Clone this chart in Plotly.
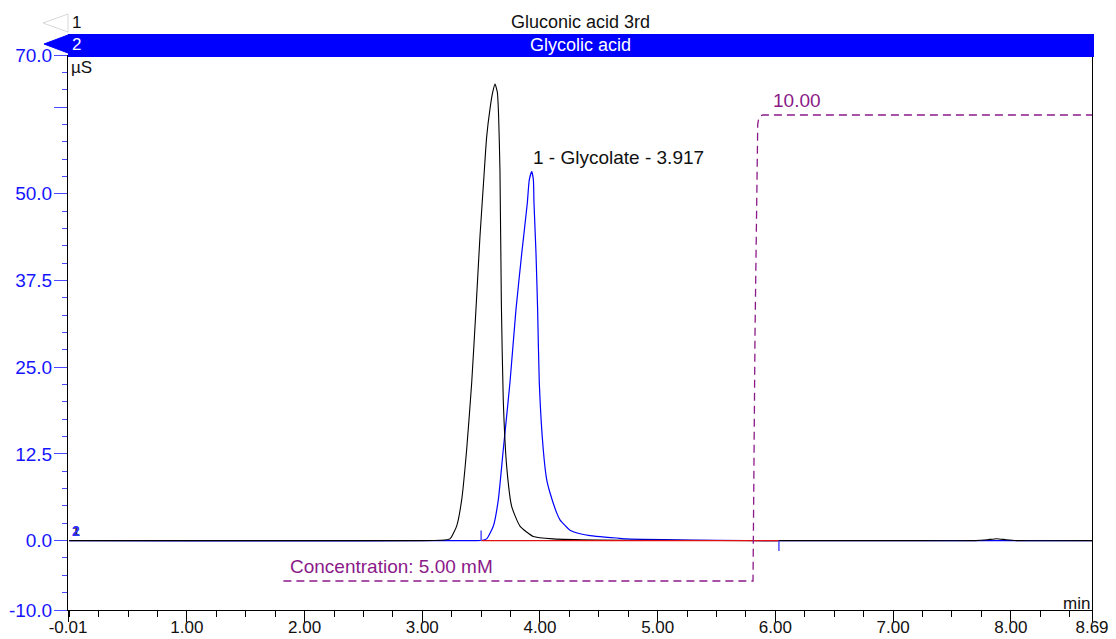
import plotly.graph_objects as go

# ---- Chromatogram 1: Gluconic acid 3rd (black) ----
gluconic_time = [0.00, 1.00, 2.00, 3.00, 3.15, 3.235, 3.292, 3.335, 3.377, 3.420,
                 3.456, 3.490, 3.520, 3.547, 3.575, 3.598, 3.618, 3.638, 3.648,
                 3.660, 3.672, 3.688, 3.717, 3.760, 3.830, 3.943, 4.113, 4.50,
                 5.00, 6.00, 7.00, 7.70, 7.80, 7.88, 7.96, 8.05, 8.69]
gluconic_signal = [0.00, 0.00, 0.00, 0.00, 0.05, 0.25, 2.1, 5.9, 13.1, 22.8,
                   33.3, 43.8, 51.5, 58.2, 62.2, 64.6, 65.8, 64.6, 61.5,
                   53.4, 34.0, 20.3, 10.7, 4.9, 2.1, 0.6, 0.25, 0.08,
                   0.03, 0.00, 0.00, 0.00, 0.12, 0.28, 0.12, 0.00, 0.00]

# ---- Chromatogram 2: Glycolic acid (blue) ----
glycolic_time = [0.00, 1.00, 2.00, 3.00, 3.45, 3.50, 3.547, 3.604, 3.646, 3.688,
                 3.745, 3.796, 3.845, 3.892, 3.909, 3.930, 3.944, 3.949, 3.966,
                 3.980, 3.994, 4.028, 4.057, 4.085, 4.142, 4.170, 4.255, 4.35,
                 4.425, 4.55, 4.65, 4.737, 5.05, 5.50, 6.00, 7.00, 8.69]
glycolic_signal = [0.00, -0.05, -0.05, 0.00, 0.00, 0.02, 0.25, 2.1, 5.9, 13.1,
                   22.8, 33.3, 41.4, 48.6, 52.0, 53.2, 52.0, 48.7, 41.5,
                   33.3, 22.8, 13.1, 8.8, 6.9, 4.0, 3.0, 1.5, 0.95,
                   0.72, 0.50, 0.38, 0.25, 0.14, 0.05, 0.00, 0.00, 0.00]

# Integration of peak 1 (Glycolate)
peak_name = "1 - Glycolate - 3.917"
peak_rt = 3.917
peak_apex = 53.2
peak_start, peak_end = 3.50, 6.03
delimiter_start = [0.0, 1.45]
delimiter_end = [0.0, -1.5]

# Eluent concentration program (mM)
gradient_time = [1.82, 5.810, 5.827, 5.844, 5.850, 5.858, 5.872, 5.895, 8.69]
gradient_conc = [5.00, 5.00, 7.66, 9.81, 9.90, 9.96, 9.99, 10.00, 10.00]

x_tickvals = [-0.01, 1, 2, 3, 4, 5, 6, 7, 8, 8.69]
x_ticktext = ["-0.01", "1.00", "2.00", "3.00", "4.00", "5.00", "6.00", "7.00", "8.00", "8.69"]
y_tickvals = [-10, 0, 12.5, 25, 37.5, 50, 62.5, 70]
y_ticktext = ["-10.0", "0.0", "12.5", "25.0", "37.5", "50.0", "", "70.0"]

W, H = 1116, 639
L, R, T, B = 68, 24, 55, 29
PW, PH = W - L - R, H - T - B


def px(x):
    return (x - L) / PW


def py(y):
    return (H - B - y) / PH


FONT = "Liberation Sans, Arial, sans-serif"
BLUE = "#0000ff"
PURPLE = "#8b1a89"
TICKBLUE = "#4a4aff"

fig = go.Figure()

fig.add_trace(go.Scatter(x=glycolic_time, y=glycolic_signal, mode="lines",
                         line=dict(color=BLUE, width=1.2, shape="spline", smoothing=0.5),
                         hoverinfo="skip", showlegend=False))
fig.add_trace(go.Scatter(x=gluconic_time, y=gluconic_signal, mode="lines",
                         line=dict(color="#000000", width=1.1, shape="spline", smoothing=0.5),
                         hoverinfo="skip", showlegend=False))
fig.add_trace(go.Scatter(x=[peak_start, peak_end], y=[0, 0], mode="lines",
                         line=dict(color="#e01010", width=1.1),
                         hoverinfo="skip", showlegend=False))
fig.add_trace(go.Scatter(x=[peak_start, peak_start], y=delimiter_start, mode="lines",
                         line=dict(color="#5050ff", width=1.5),
                         hoverinfo="skip", showlegend=False))
fig.add_trace(go.Scatter(x=[peak_end, peak_end], y=delimiter_end, mode="lines",
                         line=dict(color="#5050ff", width=1.5),
                         hoverinfo="skip", showlegend=False))
fig.add_trace(go.Scatter(x=gradient_time, y=gradient_conc, mode="lines", yaxis="y2",
                         line=dict(color=PURPLE, width=1.3, dash="8px,5px"),
                         hoverinfo="skip", showlegend=False))

# gradient axis: 5 mM and 10 mM levels
g_lo_px, g_hi_px = 581, 115
mm_per_px = (10 - 5) / (g_lo_px - g_hi_px)
y2_range = [5 - (H - B - g_lo_px) * mm_per_px, 10 + (g_hi_px - T) * mm_per_px]

annotations = [
    dict(x=peak_rt, y=peak_apex, xref="x", yref="y", text=peak_name, showarrow=False,
         xanchor="left", yanchor="bottom", xshift=1, yshift=2,
         font=dict(family=FONT, size=19, color="#111111")),
    dict(x=gradient_time[0], y=gradient_conc[0], xref="x", yref="y2",
         text="Concentration: 5.00 mM", showarrow=False, xanchor="left", yanchor="bottom",
         xshift=5, yshift=2, font=dict(family=FONT, size=19, color=PURPLE)),
    dict(x=gradient_time[7], y=gradient_conc[7], xref="x", yref="y2",
         text="10.00", showarrow=False, xanchor="left", yanchor="bottom",
         xshift=8, yshift=2, font=dict(family=FONT, size=19, color=PURPLE)),
    dict(x=px(69), y=py(67), xref="paper", yref="paper", text="µS", showarrow=False,
         xanchor="left", yanchor="middle", font=dict(family=FONT, size=17, color="#111111")),
    dict(x=1, y=py(603), xref="paper", yref="paper", text="min", showarrow=False,
         xanchor="right", yanchor="middle", font=dict(family=FONT, size=17, color="#111111")),
    dict(x=px(70), y=py(23), xref="paper", yref="paper", text="1", showarrow=False,
         xanchor="left", yanchor="middle", font=dict(family=FONT, size=17, color="#111111")),
    dict(x=0.5, y=py(22), xref="paper", yref="paper", text="Gluconic acid 3rd", showarrow=False,
         xanchor="center", yanchor="middle", font=dict(family=FONT, size=18, color="#111111")),
    dict(x=px(70), y=py(45), xref="paper", yref="paper", text="2", showarrow=False,
         xanchor="left", yanchor="middle", font=dict(family=FONT, size=17, color="#ffffff")),
    dict(x=0.5, y=py(45), xref="paper", yref="paper", text="Glycolic acid", showarrow=False,
         xanchor="center", yanchor="middle", font=dict(family=FONT, size=18, color="#ffffff")),
    dict(x=px(70), y=py(531), xref="paper", yref="paper", text="<b>1</b>", showarrow=False,
         xanchor="left", yanchor="middle", font=dict(family=FONT, size=14, color="#222222")),
    dict(x=px(70), y=py(531), xref="paper", yref="paper", text="<b>2</b>", showarrow=False,
         xanchor="left", yanchor="middle", font=dict(family=FONT, size=14, color="#3030ff")),
]


def tri(tip, top, bottom):
    return "M {},{} L {},{} L {},{} Z".format(px(tip[0]), py(tip[1]), px(top[0]), py(top[1]),
                                               px(bottom[0]), py(bottom[1]))


shapes = [
    dict(type="rect", xref="paper", yref="paper", x0=0, x1=px(1094), y0=py(57), y1=py(34),
         fillcolor=BLUE, line=dict(width=0), layer="above"),
    dict(type="path", xref="paper", yref="paper", path=tri((43, 23), (68, 14), (68, 32)),
         fillcolor="#ffffff", line=dict(color="#d8d8d8", width=1)),
    dict(type="path", xref="paper", yref="paper", path=tri((44, 44), (68, 35), (68, 53)),
         fillcolor=BLUE, line=dict(color=BLUE, width=1)),
]

fig.update_layout(
    width=W, height=H,
    margin=dict(l=L, r=R, t=T, b=B, pad=0, autoexpand=False),
    paper_bgcolor="#ffffff", plot_bgcolor="#ffffff",
    font=dict(family=FONT),
    showlegend=False,
    xaxis=dict(range=[-0.01, 8.69], showgrid=False, zeroline=False, automargin=False,
               showline=True, linecolor="#000000", linewidth=1,
               ticks="outside", ticklen=11, tickcolor="#000000", tickwidth=1,
               tickvals=x_tickvals, ticktext=x_ticktext, ticklabelstandoff=-9,
               tickfont=dict(family=FONT, size=17, color="#111111"),
               minor=dict(ticks="outside", ticklen=6, tick0=0, dtick=0.25,
                          tickcolor="#000000", tickwidth=1, showgrid=False)),
    yaxis=dict(range=[-10, 70], showgrid=False, zeroline=False, automargin=False,
               showline=True, linecolor="#000000", linewidth=1, mirror=True,
               ticks="outside", ticklen=13, tickcolor=TICKBLUE, tickwidth=1.3,
               tickvals=y_tickvals, ticktext=y_ticktext, ticklabelstandoff=-2,
               tickfont=dict(family=FONT, size=19, color="#1515ff"),
               minor=dict(ticks="outside", ticklen=5, tick0=0, dtick=2.5,
                          tickcolor=TICKBLUE, tickwidth=1.3, showgrid=False)),
    yaxis2=dict(range=y2_range, overlaying="y", visible=False, showgrid=False,
                automargin=False),
    annotations=annotations,
    shapes=shapes,
)

fig.write_html("out.html")
